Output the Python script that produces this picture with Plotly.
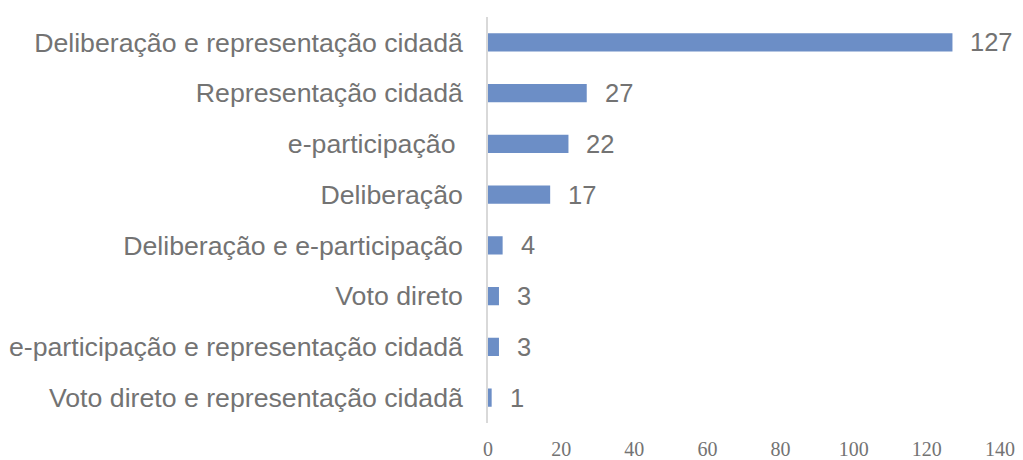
import plotly.graph_objects as go

categories = [
    "Deliberação e representação cidadã",
    "Representação cidadã",
    "e-participação ",
    "Deliberação",
    "Deliberação e e-participação",
    "Voto direto",
    "e-participação e representação cidadã",
    "Voto direto e representação cidadã",
]
values = [127, 27, 22, 17, 4, 3, 3, 1]
x_ticks = [0, 20, 40, 60, 80, 100, 120, 140]

grey = "#737373"
fig = go.Figure(go.Bar(
    y=categories, x=values, orientation="h",
    marker=dict(color="#6C8EC6", line=dict(width=0)),
    width=0.36, hoverinfo="skip",
))
for c, v in zip(categories, values):
    fig.add_annotation(x=v, y=c, text=str(v), showarrow=False, xanchor="left",
                       xshift=16, font=dict(family="Liberation Sans", size=25.5, color=grey))

fig.update_layout(
    width=1023, height=460, plot_bgcolor="white", paper_bgcolor="white",
    margin=dict(l=488, r=23, t=17, b=37), showlegend=False,
    xaxis=dict(range=[0, 140], tickvals=x_ticks, showgrid=False, zeroline=False,
               showline=False, automargin=False,
               tickfont=dict(family="Liberation Serif", size=20, color=grey),
               ticks="", ticklabelstandoff=12),
    yaxis=dict(autorange="reversed", showgrid=False, zeroline=False, showline=True,
               automargin=False,
               linecolor="#D9D9D9", linewidth=1.5, ticks="",
               tickfont=dict(family="Liberation Sans", size=26.7, color=grey),
               ticklabelstandoff=18),
)
fig.write_html("out.html", config={"displayModeBar": False},
               post_script="document.body.style.margin='0';")
